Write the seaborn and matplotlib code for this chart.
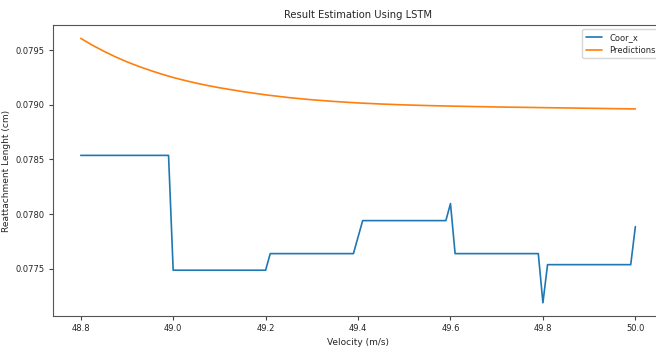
import numpy as np
import pandas as pd
import matplotlib
matplotlib.use('Agg')
import matplotlib.pyplot as plt
import seaborn as sns

# Measured values (step vertices of the measured series)
coor_velocity = [48.80, 48.99, 49.00, 49.20, 49.21, 49.39, 49.41, 49.59,
                 49.60, 49.61, 49.79, 49.80, 49.81, 49.99, 50.00]
coor_x = [0.078537, 0.078537, 0.077486, 0.077486, 0.077638, 0.077638,
          0.077940, 0.077940, 0.078096, 0.077638, 0.077638, 0.077188,
          0.077537, 0.077537, 0.077885]

# LSTM predictions
pred_velocity = [48.800, 48.825, 48.850, 48.875, 48.900, 48.925, 48.950,
                 48.975, 49.000, 49.025, 49.050, 49.075, 49.100, 49.150,
                 49.200, 49.250, 49.300, 49.350, 49.400, 49.450, 49.500,
                 49.550, 49.600, 49.650, 49.700, 49.750, 49.800, 49.850,
                 49.900, 49.950, 50.000]
predictions = [0.079608, 0.079546, 0.079490, 0.079439, 0.079393, 0.079352,
               0.079315, 0.079281, 0.079250, 0.079223, 0.079198, 0.079176,
               0.079156, 0.079121, 0.079091, 0.079066, 0.079046, 0.079030,
               0.079017, 0.079007, 0.078999, 0.078993, 0.078988, 0.078984,
               0.078980, 0.078977, 0.078974, 0.078971, 0.078968, 0.078965,
               0.078962]

df_coor = pd.DataFrame({'Velocity': coor_velocity, 'Value': coor_x})
df_pred = pd.DataFrame({'Velocity': pred_velocity, 'Value': predictions})

sns.set_style('ticks')
plt.rcParams['font.family'] = ['DejaVu Sans']

fig = plt.figure(figsize=(6.56, 3.53), dpi=100)
# axes runs a little past the right edge, like the cropped original
ax = fig.add_axes([0.0808, 0.1048, 0.930, 0.824])

sns.lineplot(data=df_coor, x='Velocity', y='Value', ax=ax, color='#1f77b4',
             linewidth=1.2, label='Coor_x')
sns.lineplot(data=df_pred, x='Velocity', y='Value', ax=ax, color='#ff7f0e',
             linewidth=1.2, label='Predictions')

ax.set_title('Result Estimation Using LSTM', fontsize=7.2, pad=5)
ax.set_xlabel('Velocity (m/s)', fontsize=6.5, labelpad=3)
ax.set_ylabel('Reattachment Lenght (cm)', fontsize=6.5, labelpad=3)
ax.set_xticks([48.8, 49.0, 49.2, 49.4, 49.6, 49.8, 50.0])
ax.set_yticks([0.0775, 0.0780, 0.0785, 0.0790, 0.0795])
ax.tick_params(labelsize=6, length=3, width=0.8, pad=3, color='#444444')
for s in ax.spines.values():
    s.set_color('#555555')
    s.set_linewidth(0.8)
ax.legend(loc='upper right', fontsize=6, frameon=True)

fig.savefig('out.png', dpi=100)
